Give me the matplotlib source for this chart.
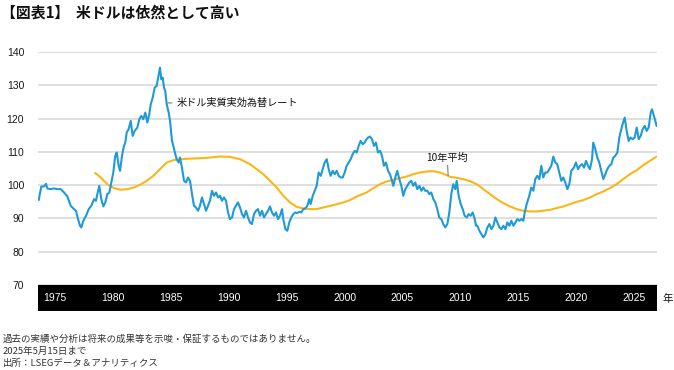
import matplotlib
matplotlib.use("Agg")
import matplotlib.pyplot as plt

# ---- data ----
blue_t = [1975.06, 1975.27, 1975.49, 1975.65, 1975.76, 1976.03, 1976.30, 1976.57, 1976.85, 1977.12,
          1977.39, 1977.66, 1977.93, 1978.09, 1978.26, 1978.42, 1978.53, 1978.69, 1978.91, 1979.13,
          1979.34, 1979.56, 1979.72, 1979.83, 1979.99, 1980.15, 1980.32, 1980.48, 1980.64, 1980.81,
          1980.97, 1981.13, 1981.29, 1981.41, 1981.57, 1981.68, 1981.84, 1982.00, 1982.11, 1982.22,
          1982.38, 1982.55, 1982.71, 1982.87, 1983.09, 1983.25, 1983.41, 1983.57, 1983.74, 1983.90,
          1984.06, 1984.18, 1984.34, 1984.50, 1984.66, 1984.83, 1984.93, 1985.04, 1985.15, 1985.26,
          1985.36, 1985.48, 1985.64, 1985.75, 1985.91, 1986.02, 1986.18, 1986.29, 1986.46, 1986.56,
          1986.72, 1986.89, 1987.05, 1987.21, 1987.38, 1987.54, 1987.70, 1987.86, 1988.03, 1988.19,
          1988.35, 1988.52, 1988.68, 1988.84, 1989.00, 1989.17, 1989.33, 1989.49, 1989.66, 1989.82,
          1989.98, 1990.14, 1990.31, 1990.47, 1990.63, 1990.80, 1990.96, 1991.12, 1991.28, 1991.45,
          1991.61, 1991.77, 1991.94, 1992.10, 1992.26, 1992.42, 1992.59, 1992.75, 1992.91, 1993.08,
          1993.24, 1993.40, 1993.56, 1993.73, 1993.89, 1994.05, 1994.22, 1994.38, 1994.54, 1994.70,
          1994.87, 1994.97, 1995.14, 1995.30, 1995.46, 1995.62, 1995.79, 1995.95, 1996.11, 1996.28,
          1996.44, 1996.60, 1996.76, 1996.93, 1997.09, 1997.20, 1997.37, 1997.53, 1997.69, 1997.85,
          1998.02, 1998.18, 1998.34, 1998.51, 1998.67, 1998.83, 1998.99, 1999.16, 1999.32, 1999.48,
          1999.65, 1999.81, 1999.97, 2000.13, 2000.30, 2000.46, 2000.62, 2000.79, 2000.95, 2001.11,
          2001.27, 2001.44, 2001.60, 2001.71, 2001.87, 2002.03, 2002.19, 2002.36, 2002.52, 2002.68,
          2002.85, 2003.01, 2003.17, 2003.33, 2003.50, 2003.66, 2003.82, 2003.93, 2004.09, 2004.25,
          2004.42, 2004.58, 2004.74, 2004.91, 2005.07, 2005.23, 2005.39, 2005.56, 2005.72, 2005.88,
          2006.05, 2006.21, 2006.37, 2006.53, 2006.70, 2006.86, 2007.02, 2007.19, 2007.35, 2007.51,
          2007.67, 2007.84, 2008.00, 2008.16, 2008.33, 2008.49, 2008.65, 2008.81, 2008.98, 2009.09,
          2009.25, 2009.42, 2009.58, 2009.74, 2009.91, 2010.07, 2010.23, 2010.39, 2010.56, 2010.66,
          2010.77, 2010.94, 2011.10, 2011.26, 2011.43, 2011.59, 2011.75, 2011.92, 2012.08, 2012.24,
          2012.40, 2012.57, 2012.73, 2012.89, 2013.06, 2013.22, 2013.38, 2013.54, 2013.71, 2013.87,
          2014.03, 2014.20, 2014.36, 2014.52, 2014.63, 2014.79, 2015.00, 2015.16, 2015.33, 2015.49,
          2015.65, 2015.82, 2015.98, 2016.14, 2016.30, 2016.47, 2016.63, 2016.79, 2016.96, 2017.12,
          2017.28, 2017.44, 2017.61, 2017.77, 2017.93, 2018.10, 2018.26, 2018.42, 2018.64, 2018.80,
          2018.97, 2019.13, 2019.29, 2019.46, 2019.62, 2019.78, 2019.94, 2020.11, 2020.21, 2020.38,
          2020.54, 2020.70, 2020.86, 2021.03, 2021.19, 2021.35, 2021.52, 2021.68, 2021.84, 2022.00,
          2022.17, 2022.33, 2022.49, 2022.60, 2022.77, 2022.93, 2023.09, 2023.26, 2023.42, 2023.58,
          2023.75, 2023.91, 2024.07, 2024.23, 2024.40, 2024.56, 2024.72, 2024.89, 2024.99, 2025.15,
          2025.37]
blue_v = [95.6, 99.6, 99.6, 100.4, 99.0, 98.8, 99.0, 98.8, 98.8, 97.8,
          96.6, 93.8, 92.8, 92.3, 89.8, 87.8, 87.3, 89.3, 90.8, 92.8,
          93.8, 95.8, 95.3, 97.3, 99.8, 95.8, 93.6, 94.8, 97.3, 97.8,
          100.8, 103.8, 108.8, 109.8, 105.8, 104.3, 108.8, 111.8, 112.8, 115.8,
          116.8, 119.3, 114.8, 116.3, 117.3, 119.8, 120.8, 119.8, 121.8, 118.8,
          121.3, 124.3, 126.3, 129.3, 129.8, 133.3, 135.3, 131.8, 132.3, 129.3,
          128.3, 124.3, 121.8, 119.3, 113.3, 111.8, 109.3, 107.8, 106.8, 108.3,
          105.3, 101.3, 100.8, 102.3, 101.3, 97.3, 93.8, 93.3, 92.3, 93.8,
          96.3, 94.3, 92.3, 93.8, 95.3, 98.3, 96.8, 97.8, 96.3, 96.8,
          95.3, 96.3, 95.3, 91.8, 89.8, 90.3, 92.8, 93.8, 94.8, 93.3,
          91.3, 90.3, 92.3, 90.3, 88.8, 88.3, 91.3, 92.3, 92.8, 90.8,
          92.3, 90.3, 91.3, 92.3, 93.6, 91.8, 90.8, 91.8, 89.8, 90.8,
          92.8, 89.8, 86.8, 86.3, 88.8, 90.3, 91.3, 91.8, 91.6, 92.0,
          91.8, 92.8, 93.0, 93.8, 95.8, 94.3, 96.8, 98.3, 99.8, 103.8,
          102.8, 104.8, 106.8, 107.8, 104.8, 102.8, 104.3, 103.3, 104.3, 102.8,
          102.3, 102.3, 103.8, 105.8, 106.8, 107.8, 109.3, 110.3, 109.8, 111.8,
          113.3, 112.3, 112.8, 113.6, 114.3, 114.6, 113.8, 111.8, 112.8, 109.8,
          110.3, 108.8, 105.8, 106.8, 104.3, 103.3, 101.3, 99.8, 102.3, 104.3,
          101.8, 99.8, 96.8, 98.8, 99.8, 100.8, 101.3, 99.8, 100.8, 98.8,
          99.8, 98.3, 99.3, 98.3, 98.3, 97.3, 97.8, 95.8, 94.8, 92.8,
          90.3, 89.8, 88.3, 87.3, 88.3, 91.8, 97.3, 100.3, 98.8, 101.3,
          96.8, 94.3, 92.8, 90.8, 90.3, 91.3, 90.8, 91.8, 89.8, 87.8,
          87.8, 86.3, 85.3, 84.3, 85.3, 87.3, 88.3, 86.8, 87.8, 90.3,
          88.8, 87.3, 86.8, 87.8, 86.8, 88.8, 87.8, 89.3, 87.8, 88.8,
          89.8, 89.3, 89.8, 89.3, 91.8, 94.3, 96.8, 99.3, 98.3, 101.8,
          102.8, 101.8, 105.8, 102.3, 103.8, 103.8, 104.8, 105.8, 108.6, 106.8,
          106.3, 103.8, 101.3, 102.3, 100.8, 98.8, 100.3, 104.3, 105.3, 106.8,
          104.8, 105.8, 106.3, 105.3, 107.3, 105.8, 104.8, 107.8, 112.8, 110.8,
          108.3, 106.8, 104.3, 101.8, 103.3, 104.8, 105.8, 106.3, 108.3, 108.8,
          109.8, 114.3, 116.8, 118.3, 120.3, 116.3, 113.3, 114.3, 113.8, 114.3,
          117.3, 113.8, 114.8, 116.8, 117.8, 116.3, 117.3, 121.8, 122.8, 120.8,
          117.8]

avg_t = [1979.67, 1980.11, 1980.64, 1981.19, 1981.73, 1982.27, 1982.82, 1983.36, 1983.85, 1984.39,
         1984.93, 1985.48, 1986.02, 1986.56, 1987.64, 1988.74, 1989.82, 1990.63, 1991.45, 1992.26,
         1992.81, 1993.34, 1993.89, 1994.43, 1994.97, 1995.52, 1996.06, 1996.60, 1997.15, 1997.69,
         1998.23, 1999.04, 1999.86, 2000.40, 2000.95, 2001.76, 2002.30, 2002.85, 2003.39, 2003.93,
         2004.47, 2005.02, 2005.56, 2006.10, 2006.65, 2007.19, 2007.73, 2008.28, 2008.54, 2009.09,
         2009.63, 2010.17, 2010.72, 2011.26, 2011.80, 2012.35, 2012.89, 2013.43, 2013.98, 2014.51,
         2015.06, 2015.60, 2016.14, 2016.69, 2017.23, 2017.77, 2018.32, 2018.86, 2019.40, 2019.94,
         2020.49, 2021.03, 2021.57, 2022.12, 2022.65, 2023.20, 2023.75, 2024.28, 2024.83, 2025.32]
avg_v = [103.6, 102.3, 100.3, 99.1, 98.6, 98.8, 99.3, 100.2, 101.3, 102.8,
         104.8, 106.8, 107.5, 107.8, 108.0, 108.2, 108.6, 108.5, 107.8, 106.3,
         104.8, 103.3, 101.3, 99.3, 96.8, 94.8, 93.5, 93.0, 92.8, 92.8,
         93.3, 94.0, 94.8, 95.5, 96.6, 97.8, 99.1, 100.3, 101.1, 101.6,
         102.1, 102.6, 103.3, 103.8, 104.1, 104.2, 103.8, 103.0, 102.5, 102.2,
         101.8, 101.2, 100.3, 98.8, 97.3, 95.8, 94.6, 93.6, 92.8, 92.3,
         92.1, 92.1, 92.3, 92.6, 93.1, 93.6, 94.3, 95.0, 95.5, 96.3,
         97.3, 98.1, 99.1, 100.3, 101.8, 103.3, 104.5, 106.0, 107.3, 108.5]

y_ticks = [70, 80, 90, 100, 110, 120, 130, 140]
year_labels = ["1975", "1980", "1985", "1990", "1995", "2000",
               "2005", "2010", "2015", "2020", "2025"]

title = "【図表1】  米ドルは依然として高い"
series_label = "米ドル実質実効為替レート"
avg_label = "10年平均"
notes = ["過去の実績や分析は将来の成果等を示唆・保証するものではありません。",
         "2025年5月15日まで",
         "出所：LSEGデータ＆アナリティクス"]

# ---- styling ----
JP = ['Noto Sans CJK JP', 'DejaVu Sans']
NUM = ['Liberation Sans', 'DejaVu Sans']
BLUE = '#1f9ad6'
YELLOW = '#f9b717'

W, H = 674, 370
def fx(px):
    return px / W
def fy(py):
    return 1 - py / H

fig = plt.figure(figsize=(W / 100, H / 100), dpi=100)
fig.patch.set_facecolor('white')

ax = fig.add_axes([fx(38), fy(285), fx(657) - fx(38), fy(52) - fy(285)])
ax.set_xlim(1975.0, 2025.4)
ax.set_ylim(70, 140)
ax.set_yticks(y_ticks)
ax.grid(axis='y', color='#dcdcdc', lw=1.3)
ax.set_axisbelow(True)
for s in ax.spines.values():
    s.set_visible(False)
ax.tick_params(axis='y', length=0, pad=10, labelsize=7.5, labelcolor='#1a1a1a')
ax.tick_params(axis='x', length=0, labelbottom=False)
for lab in ax.get_yticklabels():
    lab.set_family(NUM)

ax.plot(avg_t, avg_v, color=YELLOW, lw=1.5, solid_joinstyle='round')
ax.plot(blue_t, blue_v, color=BLUE, lw=1.5, solid_joinstyle='round')

ax.annotate(series_label, xy=(1985.55, 124.7), xytext=(1986.25, 124.7),
            fontsize=7.3, family=JP, color='#111111', ha='left', va='center',
            arrowprops=dict(arrowstyle='-', color='#8c8c8c', lw=0.9,
                            shrinkA=1, shrinkB=0))
ax.annotate(avg_label, xy=(2008.4, 102.9), xytext=(2008.3, 108.3),
            fontsize=7.3, family=JP, color='#111111', ha='center', va='center',
            zorder=5,
            arrowprops=dict(arrowstyle='-', color='#8c8c8c', lw=0.9,
                            shrinkA=0, shrinkB=0))

# black year band
band = fig.add_axes([fx(38), fy(311), fx(657) - fx(38), fy(285) - fy(311)])
band.set_facecolor('black')
band.set_xticks([])
band.set_yticks([])
for s in band.spines.values():
    s.set_visible(False)
for i, lab in enumerate(year_labels):
    band.text(0.0275 + i * 0.09354, 0.5, lab, color='white', fontsize=7.5,
              family=NUM, ha='center', va='center', transform=band.transAxes)
fig.text(fx(668), fy(299), "年", fontsize=7.5, family=JP, color='#111111',
         ha='center', va='center')

# title
fig.text(fx(1), fy(13), title, fontsize=10.7, family=JP, weight='bold',
         color='#111111', ha='left', va='center')

# notes
for i, line in enumerate(notes):
    fig.text(fx(3), fy(339 + 12 * i), line, fontsize=6.8, family=JP,
             color='#333333', ha='left', va='center')

fig.savefig('out.png', dpi=100, facecolor='white')
